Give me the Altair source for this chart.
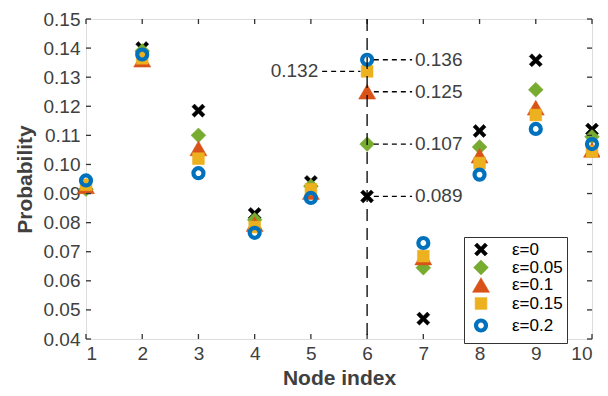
import altair as alt
import pandas as pd

nodes = [1, 2, 3, 4, 5, 6, 7, 8, 9, 10]
y_ticks = [0.04, 0.05, 0.06, 0.07, 0.08, 0.09, 0.10, 0.11, 0.12, 0.13, 0.14, 0.15]
series_labels = ["ε=0", "ε=0.05", "ε=0.1", "ε=0.15", "ε=0.2"]
p_e0 = [0.093, 0.140, 0.1185, 0.083, 0.094, 0.089, 0.047, 0.1115, 0.1358, 0.112]
p_e05 = [0.0915, 0.139, 0.110, 0.081, 0.0925, 0.107, 0.0645, 0.106, 0.1257, 0.1095]
p_e1 = [0.0925, 0.136, 0.1055, 0.0795, 0.0905, 0.125, 0.068, 0.103, 0.1195, 0.105]
p_e15 = [0.093, 0.1365, 0.102, 0.0785, 0.0915, 0.132, 0.0685, 0.1005, 0.117, 0.1045]
p_e2 = [0.0945, 0.1378, 0.097, 0.0765, 0.0885, 0.136, 0.073, 0.0965, 0.1122, 0.107]

ann_values = [0.136, 0.125, 0.107, 0.089]
ann_labels = ["0.136", "0.125", "0.107", "0.089"]
left_value = [0.132]
left_label = ["0.132"]
marked_node = 6

all_series = [p_e0, p_e05, p_e1, p_e15, p_e2]
rows = []
for lab, vals in zip(series_labels, all_series):
    for n, v in zip(nodes, vals):
        rows.append({"node": n, "eps": lab, "prob": v})
df = pd.DataFrame(rows)

right_df = pd.DataFrame({"y": ann_values, "label": ann_labels,
                         "x1": [6.12] * 4, "x2": [6.8] * 4, "xt": [6.85] * 4})
left_df = pd.DataFrame({"y": left_value, "label": left_label,
                        "x1": [5.2], "x2": [5.88], "xt": [5.13]})
vline_df = pd.DataFrame({"x": [marked_node]})
xt_df = pd.DataFrame({"v": nodes})
yt_df = pd.DataFrame({"v": y_ticks})

X_PATH = "M-1,-0.6L-0.6,-1L0,-0.4L0.6,-1L1,-0.6L0.4,0L1,0.6L0.6,1L0,0.4L-0.6,1L-1,0.6L-0.4,0Z"
AX = "#333333"
LBL = "#404040"
FONT = "Liberation Sans"
W, H = 506, 320

xscale = alt.Scale(domain=[1, 10], nice=False)
yscale = alt.Scale(domain=[0.04, 0.15], nice=False, zero=False)

xaxis = alt.Axis(values=nodes, format="d", title="Node index", grid=False, ticks=False,
                 domain=False, labelPadding=5, titlePadding=4,
                 labelColor=LBL, titleColor=LBL, labelFontSize=19, titleFontSize=21,
                 titleFontWeight="bold", labelFont=FONT, titleFont=FONT, labelOverlap=False)
yaxis = alt.Axis(values=y_ticks, format=".2f", title="Probability", grid=False, ticks=False,
                 domain=False, labelPadding=6, titlePadding=8,
                 labelColor=LBL, titleColor=LBL, labelFontSize=19, titleFontSize=21,
                 titleFontWeight="bold", labelFont=FONT, titleFont=FONT, labelOverlap=False)

legend = alt.Legend(title=None, orient="none", legendX=378, legendY=218,
                    strokeColor=AX, fillColor="white", padding=4,
                    labelFontSize=17, labelFont=FONT, labelColor="black",
                    rowPadding=0, labelOffset=22, symbolOffset=4, cornerRadius=0)

points = alt.Chart(df).mark_point(filled=False, opacity=1).encode(
    x=alt.X("node:Q", scale=xscale, axis=xaxis),
    y=alt.Y("prob:Q", scale=yscale, axis=yaxis),
    shape=alt.Shape("eps:N", scale=alt.Scale(domain=series_labels,
                    range=[X_PATH, "diamond", "triangle-up", "square", "circle"]), legend=legend),
    fill=alt.Fill("eps:N", scale=alt.Scale(domain=series_labels,
                  range=["#000000", "#77AC30", "#D95319", "#EDB120", "transparent"]), legend=legend),
    stroke=alt.Stroke("eps:N", scale=alt.Scale(domain=series_labels,
                      range=["#000000", "#77AC30", "#D95319", "#EDB120", "#0072BD"]), legend=legend),
    strokeWidth=alt.StrokeWidth("eps:N", scale=alt.Scale(type="ordinal", domain=series_labels,
                                range=[0.5, 0.5, 0.5, 0.5, 4.2]), legend=legend),
    size=alt.Size("eps:N", scale=alt.Scale(type="ordinal", domain=series_labels,
                  range=[170, 220, 290, 140, 100]), legend=legend),
)

vline = alt.Chart(vline_df).mark_rule(color="black", strokeWidth=1.3, strokeDash=[12, 7]).encode(
    x=alt.X("x:Q", axis=xaxis),
    y=alt.datum(0.15, axis=yaxis), y2=alt.datum(0.04),
)

rlines = alt.Chart(right_df).mark_rule(color="black", strokeWidth=1.3, strokeDash=[5, 4]).encode(
    x=alt.X("x1:Q", axis=xaxis), x2="x2:Q", y=alt.Y("y:Q", axis=yaxis))
rtext = alt.Chart(right_df).mark_text(align="left", baseline="middle", fontSize=19,
                                      font=FONT, color=LBL).encode(
    x=alt.X("xt:Q", axis=xaxis), y=alt.Y("y:Q", axis=yaxis), text="label:N")
llines = alt.Chart(left_df).mark_rule(color="black", strokeWidth=1.3, strokeDash=[5, 4]).encode(
    x=alt.X("x1:Q", axis=xaxis), x2="x2:Q", y=alt.Y("y:Q", axis=yaxis))
ltext = alt.Chart(left_df).mark_text(align="right", baseline="middle", fontSize=19,
                                     font=FONT, color=LBL).encode(
    x=alt.X("xt:Q", axis=xaxis), y=alt.Y("y:Q", axis=yaxis), text="label:N")

# inward tick marks along the four edges of the box
rule_kw = dict(color=AX, strokeWidth=1.3)
t_bottom = alt.Chart(xt_df).mark_rule(y2Offset=-5, **rule_kw).encode(
    x=alt.X("v:Q", axis=xaxis), y=alt.datum(0.04, axis=yaxis), y2=alt.datum(0.04))
t_top = alt.Chart(xt_df).mark_rule(y2Offset=5, **rule_kw).encode(
    x=alt.X("v:Q", axis=xaxis), y=alt.datum(0.15, axis=yaxis), y2=alt.datum(0.15))
t_left = alt.Chart(yt_df).mark_rule(x2Offset=5, **rule_kw).encode(
    y=alt.Y("v:Q", axis=yaxis), x=alt.datum(1, axis=xaxis), x2=alt.datum(1))
t_right = alt.Chart(yt_df).mark_rule(x2Offset=-5, **rule_kw).encode(
    y=alt.Y("v:Q", axis=yaxis), x=alt.datum(10, axis=xaxis), x2=alt.datum(10))

chart = alt.layer(points, t_bottom, t_top, t_left, t_right, vline, rlines, llines, rtext, ltext).properties(
    width=W, height=H,
    autosize=alt.AutoSizeParams(type="none"),
    padding={"left": 78, "top": 11, "right": 8, "bottom": 49},
).configure_view(stroke=AX, strokeWidth=1.3).configure(background="white")

chart.save("out.html", embed_options={"renderer": "svg", "actions": False})
